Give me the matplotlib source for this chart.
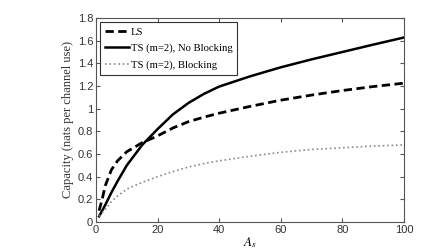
import numpy as np
import matplotlib.pyplot as plt

plt.rcParams['mathtext.fontset'] = 'stix'

# values
a_s = [1, 2, 3, 5, 7, 10, 15, 20, 25, 30, 35, 40, 45, 50, 60, 70, 80, 90, 100]
ls = [0.10, 0.20, 0.32, 0.46, 0.54, 0.62, 0.70, 0.76, 0.83, 0.885, 0.925, 0.96, 0.99,
      1.02, 1.075, 1.12, 1.16, 1.195, 1.225]
ts_noblock = [0.05, 0.10, 0.15, 0.26, 0.36, 0.50, 0.68, 0.82, 0.95, 1.05, 1.13, 1.195, 1.24,
              1.285, 1.365, 1.435, 1.50, 1.565, 1.628]
ts_block = [0.05, 0.08, 0.11, 0.18, 0.23, 0.29, 0.35, 0.40, 0.445, 0.485, 0.515, 0.54, 0.56,
            0.58, 0.615, 0.64, 0.655, 0.67, 0.68]

fig = plt.figure(figsize=(4.47, 2.5), dpi=100)
ax = fig.add_axes([96/447, 28/250, 308/447, 204/250])

ax.plot(a_s, ls, 'k--', lw=2, dashes=(3, 1.6), label='LS')
ax.plot(a_s, ts_noblock, 'k-', lw=1.8, label='TS (m=2), No Blocking')
ax.plot(a_s, ts_block, ':', color='#8a8a8a', lw=1.2, label='TS (m=2), Blocking')

ax.set_xlim(0, 100)
ax.set_ylim(0, 1.8)
ax.set_xticks([0, 20, 40, 60, 80, 100])
ax.set_yticks(np.arange(0, 1.81, 0.2))
ax.set_yticklabels(['0', '0.2', '0.4', '0.6', '0.8', '1', '1.2', '1.4', '1.6', '1.8'])
ax.tick_params(direction='in', top=True, right=True, labelsize=8, length=3,
               color='#555555', pad=2)
for lab in ax.get_xticklabels() + ax.get_yticklabels():
    lab.set_family('Liberation Sans')
    lab.set_color('#333333')
for s in ax.spines.values():
    s.set_color('#555555')
    s.set_linewidth(0.8)

ax.set_xlabel('$A_s$', fontsize=9.5, labelpad=0)
ax.set_ylabel('Capacity (nats per channel use)', fontsize=9, family='Liberation Serif',
              color='#333333', labelpad=3)

leg = ax.legend(loc='upper left', prop={'family': 'Liberation Serif', 'size': 7.7},
                handlelength=2.2, handletextpad=0.2, borderpad=0.45, labelspacing=0.65,
                fancybox=False, framealpha=1, borderaxespad=0.4)
leg.get_frame().set_edgecolor('#333333')
leg.get_frame().set_linewidth(0.8)

fig.savefig('out.png', dpi=100)
